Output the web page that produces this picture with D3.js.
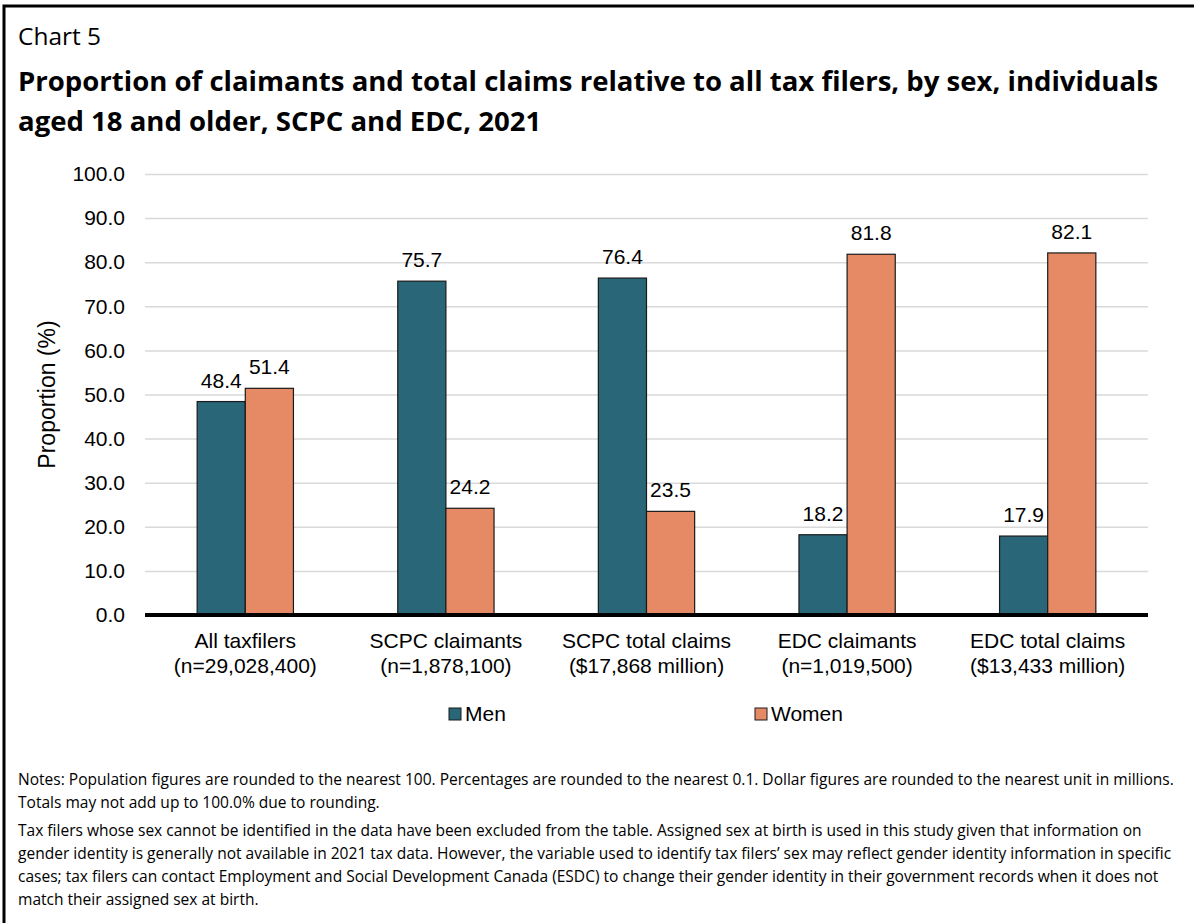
<!DOCTYPE html>
<html>
<head>
<meta charset="utf-8">
<script src="https://cdn.jsdelivr.net/npm/d3@7"></script>
<style>
  html, body { margin: 0; padding: 0; background: #fff; }
  svg { display: block; }
</style>
</head>
<body>
<svg id="chart" width="1194" height="923"></svg>
<script>
// ---- Data ----
const categoriesLine1 = ["All taxfilers", "SCPC claimants", "SCPC total claims", "EDC claimants", "EDC total claims"];
const categoriesLine2 = ["(n=29,028,400)", "(n=1,878,100)", "($17,868 million)", "(n=1,019,500)", "($13,433 million)"];
const seriesNames = ["Men", "Women"];
const menValues = [48.4, 75.7, 76.4, 18.2, 17.9];
const womenValues = [51.4, 24.2, 23.5, 81.8, 82.1];
const yTicks = [0, 10, 20, 30, 40, 50, 60, 70, 80, 90, 100];
const chartLabel = "Chart 5";
const titleLines = [
  "Proportion of claimants and total claims relative to all tax filers, by sex, individuals",
  "aged 18 and older, SCPC and EDC, 2021"
];
const yAxisTitle = "Proportion (%)";
const noteLines = [
  "Notes: Population figures are rounded to the nearest 100. Percentages are rounded to the nearest 0.1. Dollar figures are rounded to the nearest unit in millions.",
  "Totals may not add up to 100.0% due to rounding.",
  "Tax filers whose sex cannot be identified in the data have been excluded from the table. Assigned sex at birth is used in this study given that information on",
  "gender identity is generally not available in 2021 tax data. However, the variable used to identify tax filers\u2019 sex may reflect gender identity information in specific",
  "cases; tax filers can contact Employment and Social Development Canada (ESDC) to change their gender identity in their government records when it does not",
  "match their assigned sex at birth."
];

// ---- Setup ----
const svg = d3.select("#chart");
const W = 1194, H = 923;
const colors = { Men: "#296677", Women: "#E68A66" };
const uiFont = "'Open Sans', 'Noto Sans', sans-serif";
const chartFont = "'Liberation Sans', Arial, sans-serif";

svg.append("rect").attr("width", W).attr("height", H).attr("fill", "#fff");

// Frame (top and left)
svg.append("path")
  .attr("d", `M4,${H} L4,6 L${W},6`)
  .attr("fill", "none").attr("stroke", "#000").attr("stroke-width", 3);

// Fit helper
function fitText(sel, targetWidth) {
  const node = sel.node();
  const fs = parseFloat(sel.attr("font-size"));
  const w = node.getComputedTextLength();
  const nfs = fs * targetWidth / w;
  sel.attr("font-size", nfs);
  return nfs;
}

// Chart label
const cl = svg.append("text").attr("x", 18).attr("y", 45)
  .attr("font-family", uiFont).attr("font-size", 21).attr("fill", "#000")
  .text(chartLabel);
fitText(cl, 83);

// Title
const t1 = svg.append("text").attr("x", 18).attr("y", 91)
  .attr("font-family", uiFont).attr("font-weight", "bold").attr("font-size", 26).attr("fill", "#000")
  .text(titleLines[0]);
const titleSize = fitText(t1, 1141);
svg.append("text").attr("x", 18).attr("y", 131)
  .attr("font-family", uiFont).attr("font-weight", "bold").attr("font-size", titleSize).attr("fill", "#000")
  .text(titleLines[1]);

// ---- Scales ----
const plotLeft = 145, plotRight = 1148, plotTop = 174, plotBottom = 615;
const x0 = d3.scaleBand().domain(d3.range(categoriesLine1.length))
  .range([plotLeft, plotRight]).paddingInner(0.52).paddingOuter(0.26);
const x1 = d3.scaleBand().domain(seriesNames).range([0, x0.bandwidth()]);
const y = d3.scaleLinear().domain([0, 100]).range([plotBottom, plotTop]);

// Gridlines
const grid = svg.append("g").attr("class", "grid")
  .attr("transform", `translate(${plotLeft},0)`)
  .call(d3.axisLeft(y).tickValues(yTicks).tickSize(-(plotRight - plotLeft)).tickFormat(""));
grid.select(".domain").remove();
grid.selectAll("line").attr("stroke", "#d9d9d9").attr("stroke-width", 1.5);

// Y axis labels
const yAxis = svg.append("g")
  .attr("transform", `translate(${plotLeft},0)`)
  .call(d3.axisLeft(y).tickValues(yTicks).tickSize(0).tickPadding(20).tickFormat(d3.format(".1f")));
yAxis.select(".domain").remove();
yAxis.selectAll("text").attr("font-family", chartFont).attr("font-size", 21).attr("fill", "#000");

// Y axis title
svg.append("text")
  .attr("transform", `translate(55,${(plotTop + plotBottom) / 2}) rotate(-90)`)
  .attr("text-anchor", "middle")
  .attr("font-family", chartFont).attr("font-size", 23).attr("fill", "#000")
  .text(yAxisTitle);

// ---- Bars ----
const rows = categoriesLine1.map((c, i) => ({ i, Men: menValues[i], Women: womenValues[i] }));
const groups = svg.append("g").selectAll("g").data(rows).join("g")
  .attr("transform", d => `translate(${x0(d.i)},0)`);

groups.selectAll("rect").data(d => seriesNames.map(s => ({ s, v: d[s] }))).join("rect")
  .attr("x", d => x1(d.s))
  .attr("y", d => y(d.v))
  .attr("width", x1.bandwidth())
  .attr("height", d => y(0) - y(d.v))
  .attr("fill", d => colors[d.s])
  .attr("stroke", "#1a1a1a").attr("stroke-width", 1.2);

groups.selectAll("text.val").data(d => seriesNames.map(s => ({ s, v: d[s] }))).join("text")
  .attr("class", "val")
  .attr("x", d => x1(d.s) + x1.bandwidth() / 2)
  .attr("y", d => y(d.v) - 14)
  .attr("text-anchor", "middle")
  .attr("font-family", chartFont).attr("font-size", 21).attr("fill", "#000")
  .text(d => d3.format(".1f")(d.v));

// Baseline axis
const xAxis = svg.append("g").attr("transform", `translate(0,${plotBottom})`)
  .call(d3.axisBottom(x0).tickSize(0).tickFormat(""));
xAxis.select(".domain").attr("stroke", "#000").attr("stroke-width", 4)
  .attr("d", `M${plotLeft},0H${plotRight}`);

// Category labels
const catG = svg.append("g");
rows.forEach(d => {
  const cx = x0(d.i) + x0.bandwidth() / 2;
  const t = catG.append("text").attr("text-anchor", "middle")
    .attr("font-family", chartFont).attr("font-size", 21).attr("fill", "#000");
  t.append("tspan").attr("x", cx).attr("y", 648).text(categoriesLine1[d.i]);
  t.append("tspan").attr("x", cx).attr("y", 673).text(categoriesLine2[d.i]);
});

// ---- Legend ----
const legendX = [449, 755];
const legend = svg.append("g").selectAll("g").data(seriesNames).join("g")
  .attr("transform", (d, i) => `translate(${legendX[i]},708)`);
legend.append("rect").attr("width", 12).attr("height", 12)
  .attr("fill", d => colors[d]).attr("stroke", "#1a1a1a").attr("stroke-width", 1);
legend.append("text").attr("x", 16).attr("y", 12.5)
  .attr("font-family", chartFont).attr("font-size", 21).attr("fill", "#000")
  .text(d => d);

// ---- Notes ----
const noteY = [785, 808, 836, 859, 882, 905];
const n1 = svg.append("text").attr("x", 18).attr("y", noteY[0])
  .attr("font-family", uiFont).attr("font-size", 14).attr("fill", "#000")
  .text(noteLines[0]);
const noteSize = fitText(n1, 1157);
noteLines.slice(1).forEach((line, k) => {
  svg.append("text").attr("x", 18).attr("y", noteY[k + 1])
    .attr("font-family", uiFont).attr("font-size", noteSize).attr("fill", "#000")
    .text(line);
});
</script>
</body>
</html>
